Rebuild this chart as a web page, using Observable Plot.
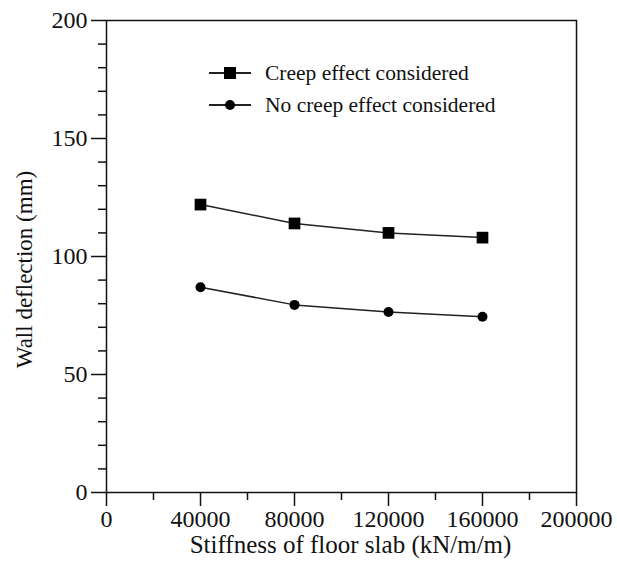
<!DOCTYPE html>
<html>
<head>
<meta charset="utf-8">
<script src="https://cdn.jsdelivr.net/npm/d3@7"></script>
<script src="https://cdn.jsdelivr.net/npm/@observablehq/plot@0.6"></script>
<style>
  html, body { margin: 0; padding: 0; background: #fff; }
  #wrap { position: relative; width: 617px; height: 574px; font-family: "Liberation Serif", "Times New Roman", serif; color: #111; }
  #wrap svg, #wrap svg text { font-family: "Liberation Serif", "Times New Roman", serif !important; }
  .legend { position: absolute; left: 208px; top: 57px; font-size: 21.5px; }
  .legend .row { display: flex; align-items: center; height: 32px; }
  .legend svg { margin-right: 13px; }
</style>
</head>
<body>
<div id="wrap"></div>
<script>
// ---- data ----
const stiffness = [40000, 80000, 120000, 160000];
const creepDeflection = [122, 114, 110, 108];
const noCreepDeflection = [87, 79.5, 76.5, 74.5];
const seriesNames = ["Creep effect considered", "No creep effect considered"];
const xTicks = [0, 40000, 80000, 120000, 160000, 200000];
const xMinorTicks = [20000, 60000, 100000, 140000, 180000];
const yTicks = [0, 50, 100, 150, 200];
const yMinorTicks = [10, 20, 30, 40, 60, 70, 80, 90, 110, 120, 130, 140, 160, 170, 180, 190];
const xLabel = ["Stiffness of floor slab (", "kN/m/m", ")"];
const yLabel = ["Wall deflection (", "mm", ")"];

const creepRows = stiffness.map((x, i) => ({x, y: creepDeflection[i]}));
const noCreepRows = stiffness.map((x, i) => ({x, y: noCreepDeflection[i]}));

const ink = "#111";
const serif = "Liberation Serif";
const chart = Plot.plot({
  width: 617,
  height: 574,
  marginLeft: 106,
  marginRight: 41,
  marginTop: 20,
  marginBottom: 82,
  style: {fontFamily: serif, color: ink, background: "#fff", overflow: "visible"},
  x: {domain: [0, 200000]},
  y: {domain: [0, 200]},
  marks: [
    Plot.frame({stroke: ink, strokeWidth: 1.5}),
    Plot.axisY(yTicks, {tickSize: 15, tickPadding: 4, fontSize: 24, fontFamily: serif, strokeWidth: 1.5, label: null, tickFormat: d3.format("d")}),
    Plot.axisY(yMinorTicks, {tickSize: 8, text: null, strokeWidth: 1.5, label: null}),
    Plot.axisX(xTicks, {tickSize: 14, tickPadding: 3, fontSize: 24, fontFamily: serif, strokeWidth: 1.5, label: null, tickFormat: d3.format("d")}),
    Plot.axisX(xMinorTicks, {tickSize: 8, text: null, strokeWidth: 1.5, label: null}),
    Plot.line(creepRows, {x: "x", y: "y", stroke: "#222", strokeWidth: 1.5}),
    Plot.line(noCreepRows, {x: "x", y: "y", stroke: "#222", strokeWidth: 1.5}),
    Plot.dot(creepRows, {x: "x", y: "y", symbol: "square", r: 6.6, fill: "#000", stroke: "none"}),
    Plot.dot(noCreepRows, {x: "x", y: "y", symbol: "circle", r: 5, fill: "#000", stroke: "none"}),
    Plot.text([xLabel.join("")], {frameAnchor: "bottom", textAnchor: "middle", dx: 9, dy: 60, fontSize: 25, fontFamily: serif, fill: ink, ariaLabel: "xlabel"}),
    Plot.text([yLabel.join("")], {frameAnchor: "left", textAnchor: "middle", rotate: -90, dx: -82, dy: 13, fontSize: 23, fontFamily: serif, fill: ink, ariaLabel: "ylabel"})
  ]
});

function italicize(sel, parts) {
  const t = chart.querySelector(`g[aria-label="${sel}"] text`);
  if (!t) return;
  t.textContent = "";
  parts.forEach((p, i) => {
    const ts = document.createElementNS("http://www.w3.org/2000/svg", "tspan");
    ts.textContent = p;
    if (i === 1) ts.setAttribute("font-style", "italic");
    t.appendChild(ts);
  });
}
italicize("xlabel", xLabel);
italicize("ylabel", yLabel);

const wrap = document.getElementById("wrap");
wrap.appendChild(chart);

// legend
const legend = document.createElement("div");
legend.className = "legend";
const symbols = ["square", "circle"];
seriesNames.forEach((name, i) => {
  const row = document.createElement("div");
  row.className = "row";
  const marker = symbols[i] === "square"
    ? `<rect x="16" y="4" width="12" height="12" fill="#000"/>`
    : `<circle cx="22" cy="10" r="5" fill="#000"/>`;
  row.innerHTML = `<svg width="44" height="20"><line x1="1" y1="10" x2="43" y2="10" stroke="#222" stroke-width="2"/>${marker}</svg><span>${name}</span>`;
  legend.appendChild(row);
});
wrap.appendChild(legend);
</script>
</body>
</html>
